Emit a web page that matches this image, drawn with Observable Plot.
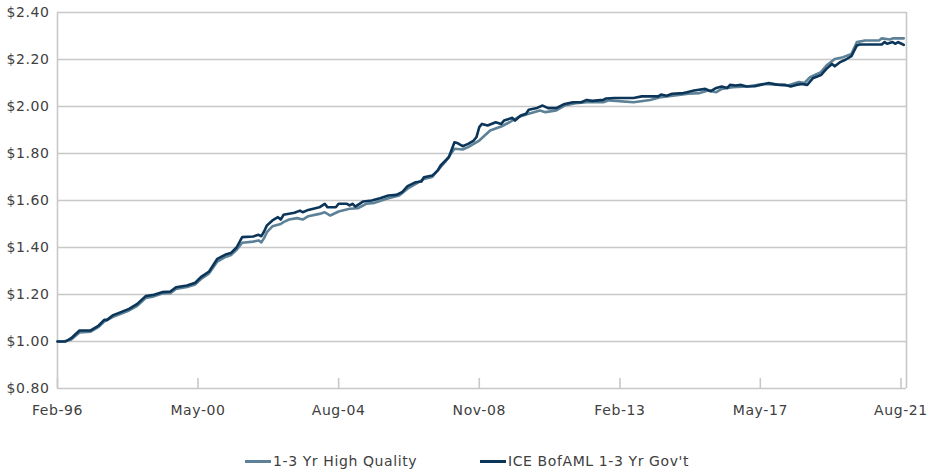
<!DOCTYPE html>
<html>
<head>
<meta charset="utf-8">
<script src="https://cdn.jsdelivr.net/npm/d3@7"></script>
<script src="https://cdn.jsdelivr.net/npm/@observablehq/plot@0.6"></script>
<style>
  html, body { margin: 0; padding: 0; background: #fff; }
  #chart { width: 928px; }
  #chart svg text { letter-spacing: 0.6px; }
  .legend { position: relative; height: 54px; font-family: "DejaVu Sans", sans-serif; font-size: 14px; letter-spacing: 0.6px; color: #404040; }
  .item { position: absolute; top: 33px; display: flex; align-items: center; white-space: nowrap; }
  .sw { width: 26px; height: 3px; margin-right: 2px; }
</style>
</head>
<body>
<div id="chart"></div>
<script>
// Series 1: 1-3 Yr High Quality (growth of $1)
const hqDates = ["1996-02","1996-04","1996-07","1996-10","1997-02","1997-05","1997-07","1997-10","1998-01","1998-04","1998-07","1998-10","1999-01","1999-04","1999-07","1999-09","2000-01","2000-04","2000-06","2000-09","2000-12","2001-03","2001-05","2001-07","2001-09","2002-01","2002-03","2002-04","2002-05","2002-06","2002-08","2002-11","2002-12","2003-02","2003-05","2003-07","2003-09","2004-01","2004-03","2004-05","2004-08","2004-12","2005-03","2005-06","2005-09","2006-02","2006-06","2006-09","2006-12","2007-03","2007-06","2007-08","2007-11","2008-02","2008-05","2008-07","2008-11","2009-03","2009-07","2009-10","2010-01","2010-05","2010-09","2010-11","2011-03","2011-06","2011-10","2012-02","2012-08","2012-10","2013-07","2014-01","2014-05","2014-10","2015-03","2015-07","2015-10","2016-01","2016-03","2016-07","2016-12","2017-06","2017-11","2018-03","2018-07","2018-09","2018-11","2019-03","2019-05","2019-08","2019-11","2020-02","2020-04","2020-07","2020-12","2021-01","2021-04","2021-05","2021-09"];
const hqValues = [1.000,1.000,1.008,1.038,1.042,1.062,1.085,1.104,1.118,1.132,1.152,1.185,1.192,1.204,1.206,1.224,1.232,1.243,1.265,1.290,1.340,1.360,1.368,1.390,1.420,1.425,1.430,1.422,1.440,1.465,1.490,1.500,1.508,1.519,1.525,1.519,1.533,1.543,1.550,1.536,1.553,1.565,1.567,1.586,1.590,1.610,1.621,1.650,1.671,1.692,1.700,1.728,1.770,1.820,1.817,1.827,1.855,1.898,1.915,1.933,1.954,1.969,1.983,1.976,1.983,2.004,2.014,2.018,2.018,2.026,2.018,2.028,2.040,2.047,2.054,2.057,2.068,2.061,2.075,2.082,2.085,2.096,2.093,2.089,2.104,2.100,2.125,2.146,2.174,2.202,2.210,2.223,2.274,2.281,2.281,2.290,2.285,2.290,2.290];

// Series 2: ICE BofAML 1-3 Yr Gov't (growth of $1)
const govDates = ["1996-02","1996-05","1996-07","1996-10","1997-02","1997-05","1997-07","1997-08","1997-10","1998-01","1998-04","1998-07","1998-10","1999-01","1999-04","1999-07","1999-09","2000-01","2000-04","2000-06","2000-09","2000-12","2001-03","2001-05","2001-07","2001-09","2002-01","2002-03","2002-04","2002-05","2002-06","2002-08","2002-10","2002-11","2002-12","2003-04","2003-06","2003-07","2003-09","2004-01","2004-03","2004-04","2004-07","2004-08","2004-11","2004-12","2005-01","2005-02","2005-05","2005-08","2005-11","2006-02","2006-05","2006-07","2006-09","2006-12","2007-02","2007-03","2007-06","2007-08","2007-09","2007-12","2008-02","2008-03","2008-05","2008-07","2008-09","2008-10","2008-11","2008-12","2009-02","2009-05","2009-07","2009-08","2009-11","2009-12","2010-02","2010-04","2010-05","2010-08","2010-10","2010-12","2011-03","2011-06","2011-09","2011-12","2012-02","2012-04","2012-08","2012-09","2012-12","2013-07","2013-10","2014-04","2014-05","2014-07","2014-09","2015-01","2015-02","2015-05","2015-09","2015-11","2016-01","2016-03","2016-05","2016-06","2016-08","2016-10","2016-12","2017-03","2017-05","2017-08","2017-11","2018-02","2018-04","2018-06","2018-08","2018-10","2018-12","2019-03","2019-05","2019-07","2019-08","2019-10","2019-12","2020-02","2020-04","2020-05","2021-01","2021-02","2021-03","2021-05","2021-06","2021-07","2021-08","2021-09"];
const govValues = [1.000,1.000,1.014,1.047,1.047,1.068,1.092,1.092,1.111,1.125,1.139,1.160,1.193,1.199,1.210,1.213,1.231,1.238,1.250,1.274,1.298,1.352,1.370,1.377,1.400,1.444,1.447,1.454,1.448,1.468,1.494,1.515,1.529,1.519,1.539,1.548,1.557,1.550,1.560,1.571,1.586,1.571,1.571,1.586,1.586,1.579,1.586,1.574,1.596,1.600,1.610,1.621,1.624,1.635,1.661,1.678,1.681,1.699,1.706,1.728,1.749,1.784,1.848,1.845,1.831,1.841,1.855,1.870,1.912,1.926,1.919,1.933,1.926,1.940,1.952,1.940,1.962,1.969,1.986,1.994,2.004,1.993,1.993,2.011,2.018,2.018,2.028,2.024,2.028,2.034,2.036,2.036,2.043,2.043,2.051,2.046,2.054,2.057,2.060,2.068,2.075,2.065,2.079,2.085,2.079,2.092,2.089,2.092,2.085,2.086,2.092,2.100,2.093,2.092,2.085,2.092,2.096,2.092,2.120,2.134,2.160,2.181,2.171,2.189,2.200,2.214,2.260,2.264,2.264,2.274,2.267,2.274,2.267,2.274,2.268,2.262];

const seriesNames = ["1-3 Yr High Quality", "ICE BofAML 1-3 Yr Gov't"];
const seriesColors = ["#5d8196", "#0c3659"];
const yTicks = [0.8, 1.0, 1.2, 1.4, 1.6, 1.8, 2.0, 2.2, 2.4];
const xTickLabels = ["1996-02", "2000-05", "2004-08", "2008-11", "2013-02", "2017-05", "2021-08"];
const xDomain = ["1996-02", "2021-10"];

const parse = d3.utcParse("%Y-%m");
const hq = hqDates.map((d, i) => ({date: parse(d), value: hqValues[i]}));
const gov = govDates.map((d, i) => ({date: parse(d), value: govValues[i]}));
const xTicks = xTickLabels.map(parse);
const domain = xDomain.map(parse);

const grid = "#c8c8c8";

const chart = Plot.plot({
  width: 928,
  height: 420,
  marginLeft: 57,
  marginRight: 22,
  marginTop: 12,
  marginBottom: 32,
  style: {fontFamily: "DejaVu Sans, sans-serif", fontSize: "13px", color: "#404040", background: "#fff"},
  x: {type: "utc", domain},
  y: {domain: [0.8, 2.4]},
  marks: [
    Plot.ruleY(yTicks, {stroke: grid, strokeWidth: 1.6}),
    Plot.ruleX(domain, {stroke: grid, strokeWidth: 1.6}),
    Plot.ruleX(xTicks, {y1: 0.8, y2: 0.8, insetTop: -10, stroke: grid, strokeWidth: 1.6}),
    Plot.axisY({ticks: yTicks, tickSize: 0, tickPadding: 8, tickFormat: d => "$" + d.toFixed(2), fontSize: 14, label: null}),
    Plot.axisX({ticks: xTicks, tickSize: 0, tickPadding: 17, tickFormat: d3.utcFormat("%b-%y"), fontSize: 14, label: null}),
    Plot.line(hq, {x: "date", y: "value", stroke: seriesColors[0], strokeWidth: 2.6, strokeLinejoin: "round"}),
    Plot.line(gov, {x: "date", y: "value", stroke: seriesColors[1], strokeWidth: 2.6, strokeLinejoin: "round"})
  ]
});
document.getElementById("chart").append(chart);

const legend = document.createElement("div");
legend.className = "legend";
const lefts = [245, 480];
seriesNames.forEach((name, i) => {
  const it = document.createElement("div");
  it.className = "item";
  it.style.left = lefts[i] + "px";
  const sw = document.createElement("span");
  sw.className = "sw";
  sw.style.background = seriesColors[i];
  const t = document.createElement("span");
  t.textContent = name;
  it.append(sw, t);
  legend.append(it);
});
document.getElementById("chart").append(legend);
</script>
</body>
</html>
